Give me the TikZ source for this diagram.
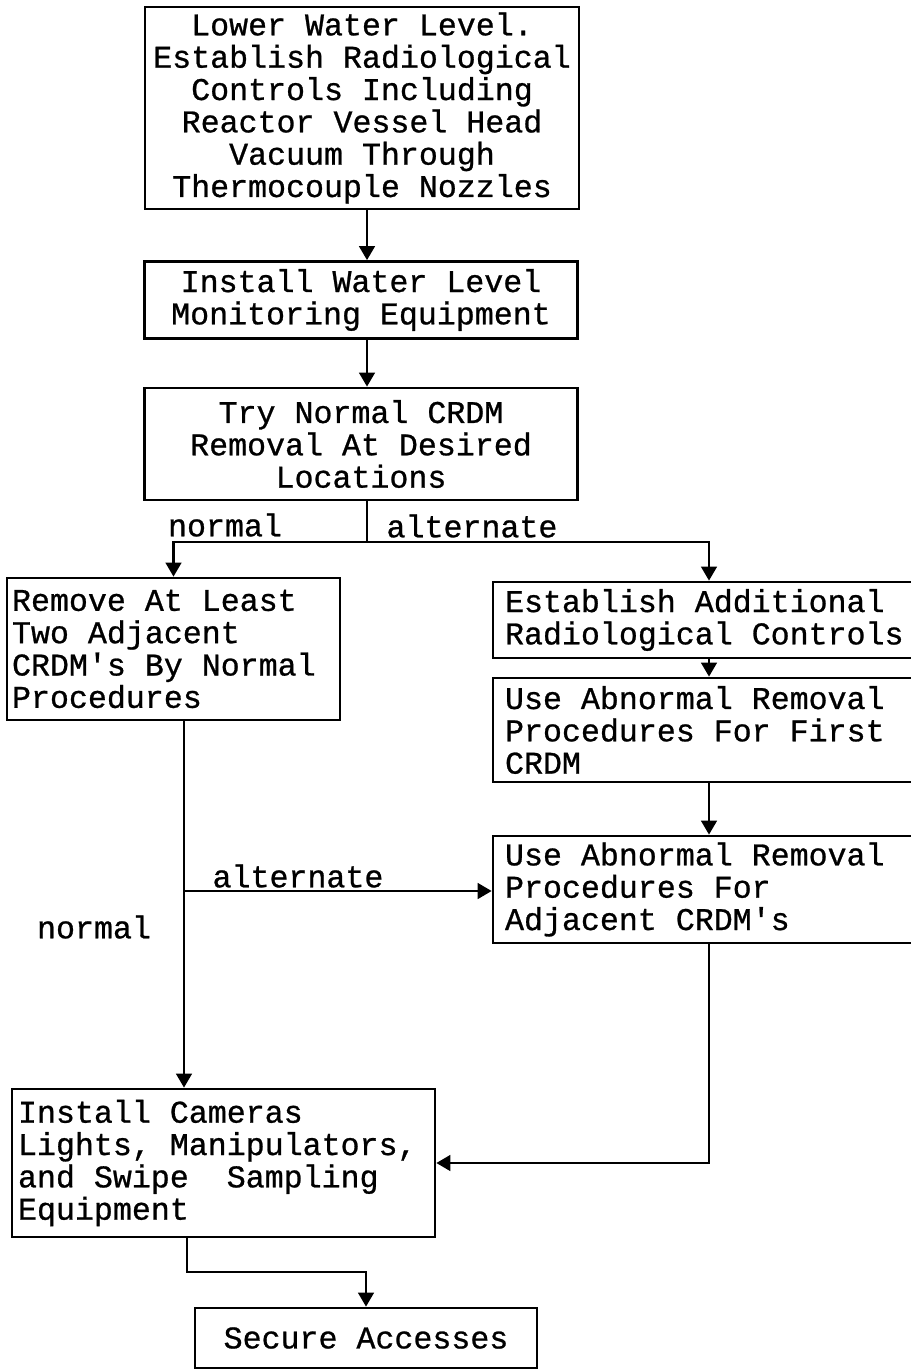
\documentclass[tikz,border=0pt]{standalone}
\usepackage{fontspec}
\setmonofont[FakeBold=0.8]{Liberation Mono}
\usetikzlibrary{arrows.meta}
\tikzset{
  typed/.style={font=\ttfamily\fontsize{18}{18.4}\selectfont},
  stepbox/.style={draw, typed, line width=1.6pt, inner ysep=0pt},
  cbox/.style={stepbox, align=center, inner xsep=0pt},
  lbox/.style={stepbox, align=left, execute at begin node={\spaceskip=0.6em\relax}},
  line/.style={line width=1.3pt},
  arr/.style={line width=1.3pt, -{Triangle[length=8pt,width=9pt]}}
}
\begin{document}
\begin{tikzpicture}[x=0.02cm,y=-0.02cm]
\useasboundingbox (0,0) rectangle (911,1371);
\clip (0,0) rectangle (911,1371);
\node[cbox, minimum width=8.68cm, minimum height=4.04cm] (lower) at (362,108)
  {Lower Water Level.\\Establish Radiological\\Controls Including\\Reactor Vessel Head\\Vacuum Through\\Thermocouple Nozzles};
\node[cbox, minimum width=8.66cm, minimum height=1.54cm] (install) at (361,300)
  {Install Water Level\\Monitoring Equipment};
\node[cbox, minimum width=8.66cm, minimum height=2.24cm] (try) at (361,444)
  {Try Normal CRDM\\Removal At Desired\\Locations};
\node[lbox, inner xsep=0.1cm, text width=6.46cm, minimum height=2.84cm] (twonormal) at (173.5,649)
  {Remove At Least\\Two Adjacent\\CRDM's By Normal\\Procedures};
\node[lbox, inner xsep=0.24cm, text width=8.16cm, minimum height=1.52cm] (addrad) at (709,620)
  {Establish Additional\\Radiological Controls};
\node[lbox, inner xsep=0.24cm, text width=8.16cm, minimum height=2.08cm] (abnfirst) at (709,730)
  {Use Abnormal Removal\\Procedures For First\\CRDM};
\node[lbox, inner xsep=0.24cm, text width=8.16cm, minimum height=2.14cm] (abnadj) at (709,889.5)
  {Use Abnormal Removal\\Procedures For\\Adjacent CRDM's};
\node[lbox, inner xsep=0.12cm, text width=8.22cm, minimum height=2.96cm] (cameras) at (223.5,1163)
  {Install Cameras\\Lights, Manipulators,\\and Swipe~ Sampling\\Equipment};
\node[cbox, minimum width=6.84cm, minimum height=1.2cm] (secure) at (366,1338)
  {Secure Accesses};
\coordinate (split) at (367,542);
\coordinate (branch) at (184,891);
\coordinate (down) at (187,1272);
\draw[arr] (lower.south -| split) -- (install.north -| split);
\draw[arr] (install.south -| split) -- (try.north -| split);
\draw[line] (try.south -| split) -- (split);
\draw[arr] (split) -| (twonormal.north);
\draw[arr] (split) -| (addrad.north);
\draw[arr] (addrad) -- (abnfirst);
\draw[arr] (abnfirst) -- (abnadj);
\draw[line] (twonormal.south -| branch) -- (branch);
\draw[arr] (branch) -- (branch |- cameras.north);
\draw[arr] (branch) -- (branch -| abnadj.west);
\draw[arr] (abnadj.south) |- (cameras.east);
\draw[arr] (cameras.south -| down) -- (down) -| (secure.north);
\node[typed] (lnormal) at (225,525) {normal};
\node[typed] (lalternate) at (472,526) {alternate};
\node[typed] (lalternate2) at (298,876) {alternate};
\node[typed] (lnormal2) at (94,927) {normal};
\end{tikzpicture}
\end{document}
